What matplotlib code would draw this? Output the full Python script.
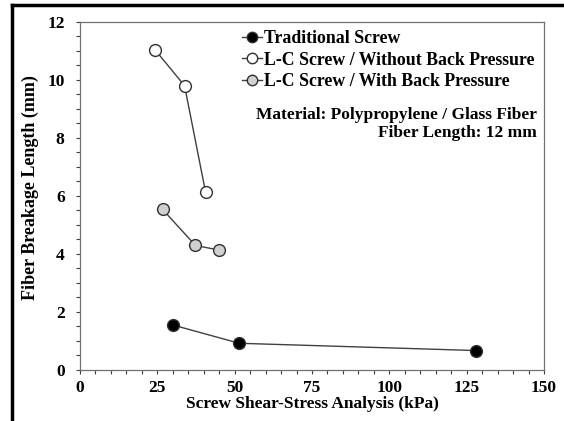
import matplotlib
matplotlib.use("Agg")
import matplotlib.pyplot as plt
from matplotlib.ticker import MultipleLocator
from matplotlib.lines import Line2D

plt.rcParams['font.family'] = ['Liberation Serif', 'DejaVu Serif']
plt.rcParams['font.weight'] = 'bold'

# data
trad_x = [30.0, 51.5, 128.0]
trad_y = [1.55, 0.92, 0.67]

no_bp_x = [24.3, 33.8, 40.6]
no_bp_y = [11.02, 9.79, 6.12]

bp_x = [26.7, 37.3, 44.9]
bp_y = [5.53, 4.29, 4.13]

labels = ["Traditional Screw",
          "L-C Screw / Without Back Pressure",
          "L-C Screw / With Back Pressure"]

fig = plt.figure(figsize=(5.64, 4.21), dpi=100)
ax = fig.add_axes([80 / 564, 1 - 370 / 421, 464 / 564, 348.5 / 421])

common = dict(color='#404040', lw=1.0, markersize=8.5, markeredgecolor='#303030',
              markeredgewidth=1.0)
ax.plot(trad_x, trad_y, marker='o', markerfacecolor='black', **common)
ax.plot(no_bp_x, no_bp_y, marker='o', markerfacecolor='white', **common)
ax.plot(bp_x, bp_y, marker='o', markerfacecolor='#d0d0d0', **common)

ax.set_xlim(0, 150)
ax.set_ylim(0, 12)
ax.xaxis.set_major_locator(MultipleLocator(25))
ax.xaxis.set_minor_locator(MultipleLocator(5))
ax.yaxis.set_major_locator(MultipleLocator(2))
ax.yaxis.set_minor_locator(MultipleLocator(0.5))
ax.tick_params(which='both', direction='out', length=3, width=0.8, color='#404040')
ax.tick_params(axis='x', labelsize=12.5, pad=4)
ax.tick_params(axis='y', labelsize=12.5, pad=8)
for s in ax.spines.values():
    s.set_color('#707070')
    s.set_linewidth(0.9)

ax.set_xlabel("Screw Shear-Stress Analysis (kPa)", fontsize=12.5, fontweight='bold', labelpad=0)
ax.set_ylabel("Fiber Breakage Length (mm)", fontsize=13, fontweight='bold')
ax.yaxis.set_label_coords(-0.088, 0.524)

handles = [
    Line2D([], [], color='#404040', lw=1.0, marker='o', markersize=7.5,
           markerfacecolor='black', markeredgecolor='#303030'),
    Line2D([], [], color='#404040', lw=1.0, marker='o', markersize=7.5,
           markerfacecolor='white', markeredgecolor='#303030'),
    Line2D([], [], color='#404040', lw=1.0, marker='o', markersize=7.5,
           markerfacecolor='#d0d0d0', markeredgecolor='#303030'),
]
leg = ax.legend(handles, labels, loc='upper left', bbox_to_anchor=(0.33, 1.0),
                frameon=False, fontsize=12.8, handlelength=1.1, handletextpad=0.15,
                labelspacing=0.24, borderaxespad=0.1)

ax.text(0.985, 0.755, "Material: Polypropylene / Glass Fiber\nFiber Length: 12 mm",
        transform=ax.transAxes, ha='right', va='top', fontsize=12.5,
        fontweight='bold', linespacing=1.2)

# outer frame of the picture (top and left edges)
fig.add_artist(Line2D([12 / 564, 12 / 564], [0, 1 - 5 / 421], color='black', lw=2.5,
                      transform=fig.transFigure))
fig.add_artist(Line2D([12 / 564, 562 / 564], [1 - 5 / 421, 1 - 5 / 421], color='black',
                      lw=2.5, transform=fig.transFigure))

fig.savefig("out.png", dpi=100)
